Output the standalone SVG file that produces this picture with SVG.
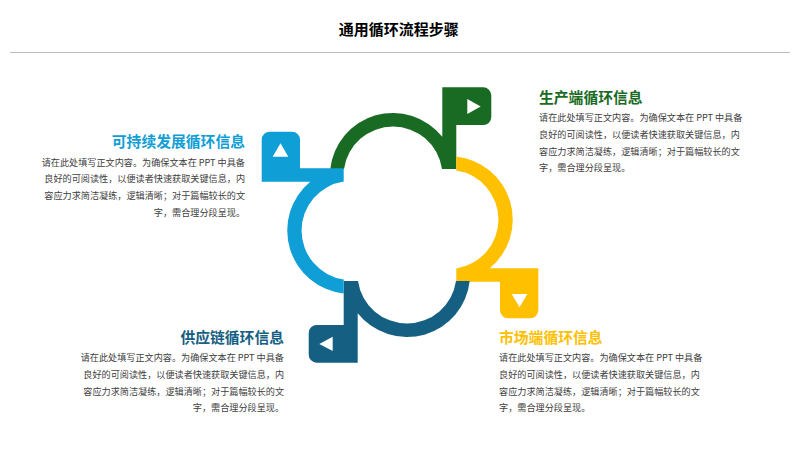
<svg xmlns="http://www.w3.org/2000/svg" width="800" height="450" viewBox="0 0 800 450">
<style>
text{font-family:"Noto Sans CJK SC","Noto Sans",sans-serif}
.t{font-size:15px;font-weight:700;fill:#000}
.h{font-size:14.800px;font-weight:700}
.b{font-size:9.150px;fill:#404040}
.e{text-anchor:end}
.tri{fill:#fff}
</style>
<rect width="800" height="450" fill="#fff"/>
<g id="title">
<text class="t" x="398.800" y="34.500" text-anchor="middle">通用循环流程步骤</text>
<line x1="10" y1="52.500" x2="790" y2="52.500" stroke="#a6a6a6" stroke-width="0.750"/>
</g>
<g id="node-production">
<path fill="#196B24" d="M330.300,169A63,63 0 0 1 442.300,136.800V87.300H483.300a8,8 0 0 1 8,8V117a8,8 0 0 1 -8,8H456.300V169H442A49.500,49.500 0 0 0 344,169Z"/>
<path class="tri" d="M467.300,99L480.700,106.500L467.300,114Z"/>
<text class="h" x="539" y="103" fill="#196B24">生产端循环信息</text>
<text class="b" x="539" y="121">请在此处填写正文内容。为确保文本在 PPT 中具备</text>
<text class="b" x="539" y="137.500">良好的可阅读性，以便读者快速获取关键信息，内</text>
<text class="b" x="539" y="154.500">容应力求简洁凝练，逻辑清晰；对于篇幅较长的文</text>
<text class="b" x="539" y="171.200">字，需合理分段呈现。</text>
</g>
<g id="node-market">
<path fill="#FFC000" d="M456.300,156.600A63.300,63.300 0 0 1 489.800,268.300H538.300V310.300a8,8 0 0 1 -8,8H508a8,8 0 0 1 -8,-8V281.700H456.300V268.400A49.500,49.500 0 0 0 456.300,170.500Z"/>
<path class="tri" d="M511.700,294H527.300L519.500,307.300Z"/>
<text class="h" x="499" y="343" fill="#FFC000">市场端循环信息</text>
<text class="b" x="499" y="360.500">请在此处填写正文内容。为确保文本在 PPT 中具备</text>
<text class="b" x="499" y="377.500">良好的可阅读性，以便读者快速获取关键信息，内</text>
<text class="b" x="499" y="394.500">容应力求简洁凝练，逻辑清晰；对于篇幅较长的文</text>
<text class="b" x="499" y="411.200">字，需合理分段呈现。</text>
</g>
<g id="node-supply">
<path fill="#156082" d="M469.700,281A63,63 0 0 1 357.700,313.200V362.700H316.700a8,8 0 0 1 -8,-8V333a8,8 0 0 1 8,-8H343.700V281H358A49.500,49.500 0 0 0 456,281Z"/>
<path class="tri" d="M332.700,336.700L319.300,344L332.700,351Z"/>
<text class="h e" x="284" y="343" fill="#156082">供应链循环信息</text>
<text class="b e" x="284" y="360.500">请在此处填写正文内容。为确保文本在 PPT 中具备</text>
<text class="b e" x="284" y="377.500">良好的可阅读性，以便读者快速获取关键信息，内</text>
<text class="b e" x="284" y="394.500">容应力求简洁凝练，逻辑清晰；对于篇幅较长的文</text>
<text class="b e" x="284" y="411.200">字，需合理分段呈现。</text>
</g>
<g id="node-sustainable">
<path fill="#0F9ED5" d="M343.700,293.400A63.300,63.300 0 0 1 310.200,181.700H261.700V139.700a8,8 0 0 1 8,-8H292a8,8 0 0 1 8,8V168.300H343.700V181.600A49.500,49.500 0 0 0 343.700,279.500Z"/>
<path class="tri" d="M272.700,156.700H288.300L280.500,143.300Z"/>
<text class="h e" x="245" y="147" fill="#0F9ED5">可持续发展循环信息</text>
<text class="b e" x="245" y="165.500">请在此处填写正文内容。为确保文本在 PPT 中具备</text>
<text class="b e" x="245" y="181.500">良好的可阅读性，以便读者快速获取关键信息，内</text>
<text class="b e" x="245" y="198.500">容应力求简洁凝练，逻辑清晰；对于篇幅较长的文</text>
<text class="b e" x="245" y="215.800">字，需合理分段呈现。</text>
</g>
</svg>
